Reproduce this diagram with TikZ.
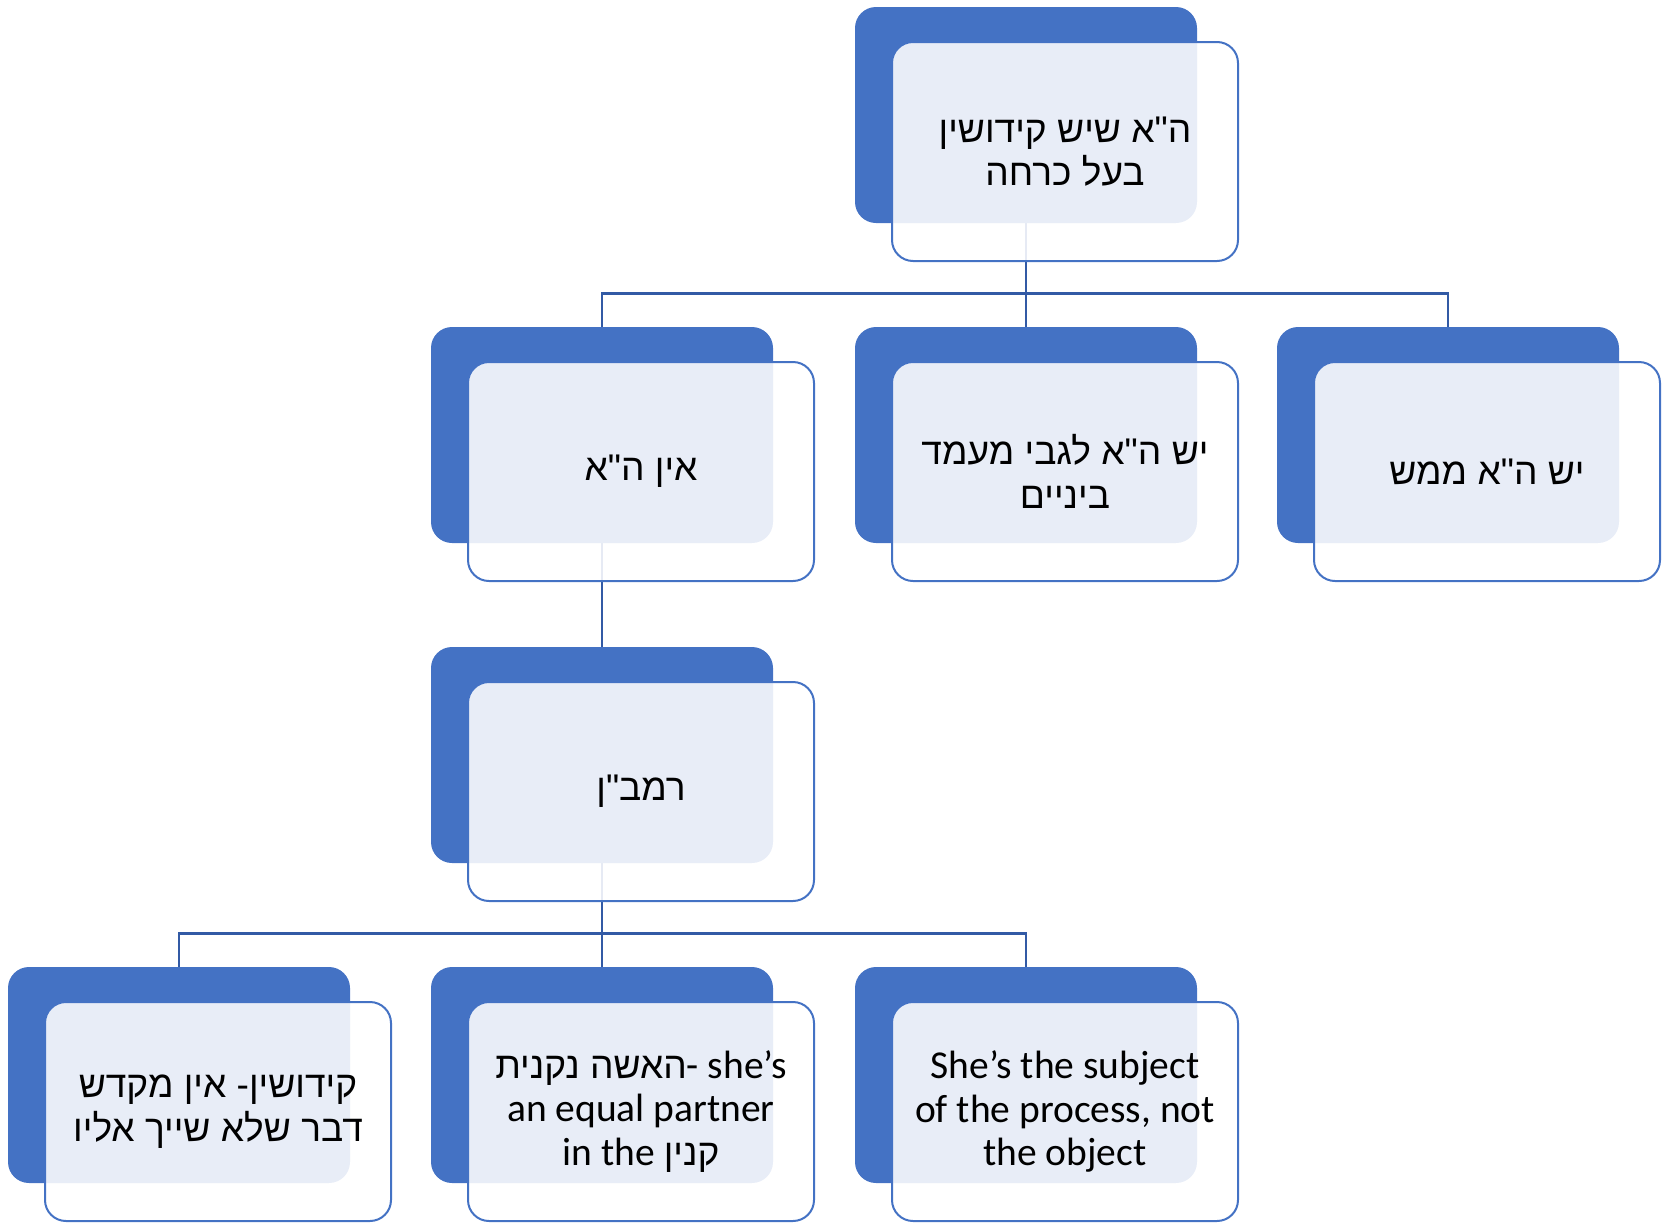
\documentclass[tikz,border=0pt]{standalone}
\usepackage{fontspec}
\setmainfont{Carlito}
\newfontfamily\heb[Script=Hebrew, Scale=0.94]{Liberation Sans}
\TeXXeTstate=1
\usetikzlibrary{backgrounds}
\definecolor{boxblue}{RGB}{68,114,196}
\definecolor{linkblue}{RGB}{50,90,165}

\begin{document}
\begin{tikzpicture}[x=1pt, y=-1pt,
darkbox/.style={rectangle, rounded corners=21pt, fill=boxblue, minimum width=342pt, minimum height=216pt, inner sep=0pt},
lightbox/.style={rectangle, rounded corners=21pt, draw=boxblue, line width=2pt, fill=white, fill opacity=0.88, text opacity=1, minimum width=346pt, minimum height=219pt, inner sep=0pt, align=center, font=\fontsize{39.5}{43.5}\selectfont},
link/.style={draw=linkblue, line width=2.6pt}
]
    \useasboundingbox (0,0) rectangle (1665,1229);

    \node [darkbox] (a1) at (1026,115) {};
    \node [lightbox] (a1t) at (1065,151.5) {\heb\beginR ה"א שיש קידושין\endR\\ \heb\beginR בעל כרחה\endR};

    \node [darkbox] (b1) at (602,435) {};
    \node [darkbox] (b2) at (1026,435) {};
    \node [darkbox] (b3) at (1448,435) {};
    \node [lightbox] (b1t) at (641,471.5) {\heb\beginR אין ה"א\endR};
    \node [lightbox] (b2t) at (1065,471.5) {\heb\beginR יש ה"א לגבי מעמד\endR\\ \heb\beginR ביניים\endR};
    \node [lightbox] (b3t) at (1487,471.5) {\heb\beginR יש ה"א ממש\endR};

    \node [darkbox] (c1) at (602,755) {};
    \node [lightbox] (c1t) at (641,791.5) {\heb\beginR רמב"ן\endR};

    \node [darkbox] (d1) at (179,1075) {};
    \node [darkbox] (d2) at (602,1075) {};
    \node [darkbox] (d3) at (1026,1075) {};
    \node [lightbox] (d1t) at (218,1111.5) {\heb\beginR קידושין- אין מקדש\endR\\ \heb\beginR דבר שלא שייך אליו\endR};
    \node [lightbox] (d2t) at (641,1111.5) {{\heb\beginR האשה נקנית\endR}- she’s\\ an equal partner\\ in the {\heb\beginR קנין\endR}};
    \node [lightbox] (d3t) at (1065,1111.5) {She’s the subject\\ of the process, not\\ the object};

    \coordinate (j1) at (1026,293.5);
    \coordinate (j2) at (602,933.5);

    \begin{scope}[on background layer]
    \draw [link] (a1) -- (j1);
    \draw [link] (j1) -| (b1);
    \draw [link] (j1) -- (b2);
    \draw [link] (j1) -| (b3);
    \draw [link] (b1) -- (c1);
    \draw [link] (c1) -- (j2);
    \draw [link] (j2) -| (d1);
    \draw [link] (j2) -- (d2);
    \draw [link] (j2) -| (d3);
    \end{scope}

\end{tikzpicture}
\end{document}
